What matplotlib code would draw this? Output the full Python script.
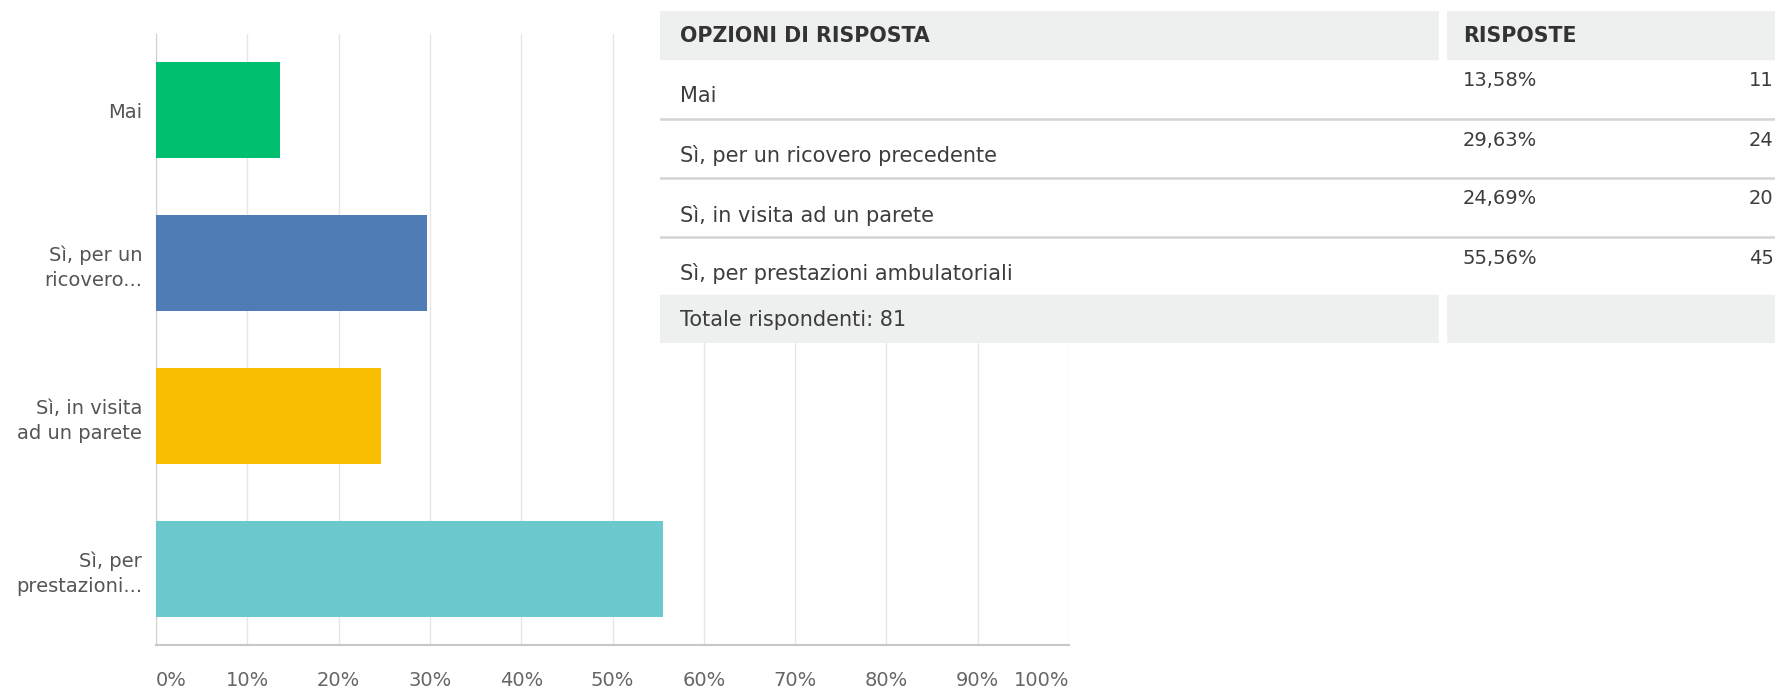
import matplotlib.pyplot as plt
from matplotlib.patches import Rectangle

W, H = 1775, 692

# Data
labels_short = ["Mai", "Sì, per un\nricovero...", "Sì, in visita\nad un parete", "Sì, per\nprestazioni..."]
labels_full = ["Mai", "Sì, per un ricovero precedente", "Sì, in visita ad un parete",
               "Sì, per prestazioni ambulatoriali"]
percent = [13.58, 29.63, 24.69, 55.56]
counts = [11, 24, 20, 45]
total = 81
colors = ["#00bf6f", "#507cb6", "#f9be00", "#6bc8cd"]
xticks = [0, 10, 20, 30, 40, 50, 60, 70, 80, 90, 100]

plt.rcParams["font.family"] = ["DejaVu Sans"]

fig = plt.figure(figsize=(W / 100, H / 100), dpi=100)

# Bar chart
ax = fig.add_axes([156 / W, (H - 645) / H, 913 / W, 611 / H])
ypos = list(range(len(percent)))
ax.barh(ypos, percent, height=0.63, color=colors, zorder=3)
ax.set_xlim(0, 100)
ax.set_ylim(3.5, -0.5)
ax.set_yticks(ypos)
ax.set_yticklabels(labels_short, fontsize=14, color="#555555", linespacing=1.4)
ax.set_xticks(xticks)
ax.set_xticklabels([f"{t}%" for t in xticks], fontsize=14, color="#666666")
tl = ax.get_xticklabels()
tl[0].set_horizontalalignment("left")
tl[-1].set_horizontalalignment("right")
ax.tick_params(axis="x", length=0, pad=19)
ax.tick_params(axis="y", length=0, pad=10)
ax.grid(axis="x", color="#e6e6e6", linewidth=1, zorder=0)
for s in ["top", "right"]:
    ax.spines[s].set_visible(False)
ax.spines["left"].set_color("#d0d0d0")
ax.spines["bottom"].set_color("#c8c8c8")
ax.spines["bottom"].set_linewidth(1.5)

# Table on top
tx = fig.add_axes([660 / W, (H - 343) / H, (W - 660) / W, 332 / H], zorder=5)
tx.set_xlim(660, W)
tx.set_ylim(343, 11)
tx.axis("off")
tx.add_patch(Rectangle((660, 11), W - 660, 332, color="white", zorder=0))

gray = "#eeefef"
row_edges = [59, 119, 178, 237, 295]
tx.add_patch(Rectangle((660, 11), W - 660, 48, color=gray, zorder=1))
tx.add_patch(Rectangle((660, 295), W - 660, 48, color=gray, zorder=1))
tx.plot([1443, 1443], [11, 59], color="white", lw=6, zorder=2)
tx.plot([1443, 1443], [295, 343], color="white", lw=6, zorder=2)
for y in row_edges[1:-1]:
    tx.plot([660, W], [y, y], color="#d4d4d4", lw=1.8, zorder=2)

txt_kw = dict(color="#3d3d3d", va="center")
tx.text(680, 36, "OPZIONI DI RISPOSTA", fontweight="bold", fontsize=14.8, color="#333333", va="center")
tx.text(1463, 36, "RISPOSTE", fontweight="bold", fontsize=14.8, color="#333333", va="center")
for i, (lab, p, c) in enumerate(zip(labels_full, percent, counts)):
    top = row_edges[i]
    tx.text(680, top + 37, lab, fontsize=15, **txt_kw)
    tx.text(1463, top + 21, f"{p:.2f}%".replace(".", ","), fontsize=14, **txt_kw)
    tx.text(1749, top + 21, str(c), fontsize=14, **txt_kw)
tx.text(680, 320, f"Totale rispondenti: {total}", fontsize=15, **txt_kw)

fig.savefig("out.png", dpi=100)
